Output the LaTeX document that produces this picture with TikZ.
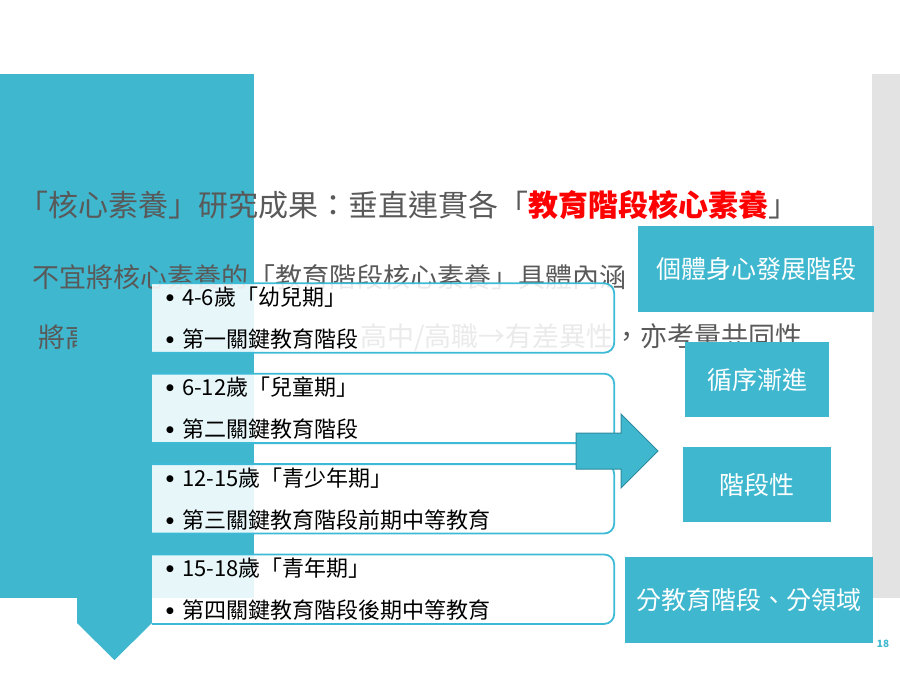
\documentclass[tikz,border=0pt]{standalone}
\usepackage{fontspec}
\setmainfont{Noto Sans CJK TC}
\newfontfamily\symfont{DejaVu Sans}
\usepackage{tikz}
\usetikzlibrary{positioning}
\definecolor{slideteal}{HTML}{3FB8CF}
\definecolor{boxline}{HTML}{3DBAD5}
\definecolor{arrowline}{HTML}{2E8A9E}
\definecolor{bodygrey}{HTML}{595959}
\definecolor{stripgrey}{HTML}{E3E3E3}
\newcommand{\stagebullet}{\makebox[13pt][l]{\hspace*{-3pt}\raisebox{5pt}{\symfont\fontsize{9}{9}\selectfont ●}}}

\begin{document}
\begin{tikzpicture}[x=1pt,y=-1pt]
\tikzstyle{stage}=[rectangle,fill=white,fill opacity=0.88,text opacity=1,minimum width=462pt,minimum height=69pt,inner xsep=17pt,inner ysep=0pt,text width=428pt,align=left,font=\fontsize{22}{42}\selectfont]
\tikzstyle{tealbox}=[rectangle,fill=slideteal,text=white,font=\fontsize{25}{30}\selectfont]
\tikzstyle{bodytext}=[anchor=west,inner sep=0pt,text=bodygrey,font=\fontsize{27}{32}\selectfont]

\useasboundingbox (0,0) rectangle (900,675);
\fill[stripgrey] (872,74) rectangle (900,598);
\fill[slideteal] (0,74) rectangle (254,598);

\node[bodytext,font=\fontsize{30}{36}\selectfont] (title) at (18,205) {「核心素養」研究成果：垂直連貫各「\textcolor{red}{\bfseries 教育階段核心素養}」};
\node[bodytext] (line2) at (32,277) {不宜將核心素養的「教育階段核心素養」具體內涵};
\node[bodytext] (line3a) at (38,337) {將高};
\node[bodytext] (line3b) at (360,337) {高中/高職→有差異性，亦考量共同性};

\fill[slideteal] (77,300) -- (152,300) -- (152,623) -- (114.5,660) -- (77,623) -- cycle;

\node[stage] (b1) at (383,318) {\stagebullet 4-6歲「幼兒期」\\ \stagebullet 第一關鍵教育階段};
\node[stage,below=21pt of b1] (b2) {\stagebullet 6-12歲「兒童期」\\ \stagebullet 第二關鍵教育階段};
\node[stage,below=21pt of b2] (b3) {\stagebullet 12-15歲「青少年期」\\ \stagebullet 第三關鍵教育階段前期中等教育};
\node[stage,below=21pt of b3] (b4) {\stagebullet 15-18歲「青年期」\\ \stagebullet 第四關鍵教育階段後期中等教育};
\foreach \b in {b1,b2,b3,b4}
  \draw[boxline,line width=1.8pt] (\b.north west) [rounded corners=10pt] -- (\b.north east) -- (\b.south east) -- (\b.south west);

\filldraw[fill=slideteal,draw=arrowline,line width=1pt] (576,433) -- (621,433) -- (621,414) -- (658,451) -- (621,488) -- (621,469) -- (576,469) -- cycle;

\node[tealbox,minimum width=236pt,minimum height=86pt] (body) at (756,269) {個體身心發展階段};
\node[tealbox,minimum width=144pt,minimum height=75pt] (order) at (757,379.5) {循序漸進};
\node[tealbox,minimum width=148pt,minimum height=75pt] (phase) at (757,484.5) {階段性};
\node[tealbox,minimum width=248pt,minimum height=86pt] (field) at (749,600) {分教育階段、分領域};
\node[text=slideteal,font=\fontsize{10}{12}\selectfont\bfseries] (page) at (883,644) {18};
\end{tikzpicture}
\end{document}
